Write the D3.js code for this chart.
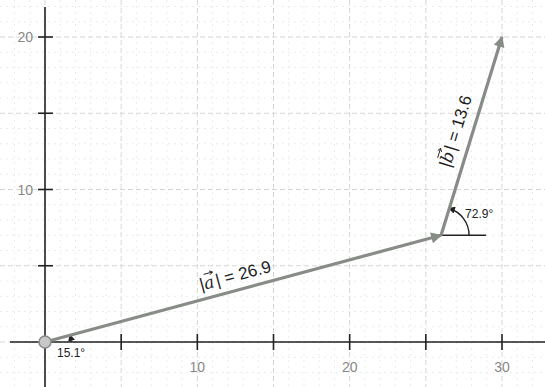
<!DOCTYPE html>
<html>
<head>
<meta charset="utf-8">
<script src="https://cdn.jsdelivr.net/npm/d3@7"></script>
<style>
  body { margin: 0; background: #fff; }
  svg { display: block; }
</style>
</head>
<body>
<svg width="545" height="387"></svg>
<script>
// vectors: tail -> head, in graph units
const vecNames = ["a", "b"];
const vecStart = [[0, 0], [26, 7]];
const vecEnd = [[26, 7], [30, 20]];
const vecMagLabels = ["26.9", "13.6"];
const angleLabels = ["15.1°", "72.9°"];
const xTicks = [5, 10, 15, 20, 25, 30];
const xTickLabels = [10, 20, 30];
const yTicks = [5, 10, 15, 20];
const yTickLabels = [10, 20];

const svg = d3.select("svg");
const W = 545, H = 387;
const x = d3.scaleLinear().domain([0, 30]).range([45, 502]);
const y = d3.scaleLinear().domain([0, 20]).range([342, 37]);
const arrowCol = "#878c87";
const font = "Liberation Sans, Arial, sans-serif";

const defs = svg.append("defs");
defs.append("marker").attr("id", "head")
    .attr("viewBox", "0 0 10 10").attr("refX", 9).attr("refY", 5)
    .attr("markerUnits", "userSpaceOnUse")
    .attr("markerWidth", 15).attr("markerHeight", 11).attr("orient", "auto")
  .append("path").attr("d", "M0,0 L10,5 L0,10 Z").attr("fill", arrowCol);
defs.append("marker").attr("id", "small")
    .attr("viewBox", "0 0 10 10").attr("refX", 8).attr("refY", 5)
    .attr("markerUnits", "userSpaceOnUse")
    .attr("markerWidth", 8).attr("markerHeight", 7).attr("orient", "auto")
  .append("path").attr("d", "M0,0 L10,5 L0,10 Z").attr("fill", "#222");

// grid
const xMin = Math.ceil(x.invert(0)), xMax = Math.floor(x.invert(W));
const yMin = Math.ceil(y.invert(H)), yMax = Math.floor(y.invert(0));
const grid = svg.append("g");
grid.selectAll(".gx").data(d3.range(xMin, xMax + 1)).enter().append("line")
    .attr("x1", d => x(d)).attr("x2", d => x(d)).attr("y1", 0).attr("y2", H)
    .attr("stroke", d => d % 5 === 0 ? "#d6d6d6" : "#ececec")
    .attr("stroke-dasharray", d => d % 5 === 0 ? "5,3" : "2,4");
grid.selectAll(".gy").data(d3.range(yMin, yMax + 1)).enter().append("line")
    .attr("y1", d => y(d)).attr("y2", d => y(d)).attr("x1", 0).attr("x2", W)
    .attr("stroke", d => d % 5 === 0 ? "#d6d6d6" : "#ececec")
    .attr("stroke-dasharray", d => d % 5 === 0 ? "5,3" : "2,4");

// axes
svg.append("line").attr("x1", 10).attr("x2", W).attr("y1", y(0)).attr("y2", y(0))
    .attr("stroke", "#222").attr("stroke-width", 1.6);
svg.append("line").attr("x1", x(0)).attr("x2", x(0)).attr("y1", 7).attr("y2", H)
    .attr("stroke", "#222").attr("stroke-width", 1.6);
svg.selectAll(".tx").data(xTicks).enter().append("line")
    .attr("x1", d => x(d)).attr("x2", d => x(d))
    .attr("y1", y(0) - 8).attr("y2", y(0) + 8)
    .attr("stroke", "#222").attr("stroke-width", 1.6);
svg.selectAll(".ty").data(yTicks).enter().append("line")
    .attr("y1", d => y(d)).attr("y2", d => y(d))
    .attr("x1", x(0) - 7).attr("x2", x(0) + 8)
    .attr("stroke", "#222").attr("stroke-width", 1.6);
svg.selectAll(".lx").data(xTickLabels).enter().append("text")
    .attr("x", d => x(d)).attr("y", y(0) + 30)
    .attr("text-anchor", "middle").attr("font-family", font)
    .attr("font-size", 14).attr("fill", "#888").text(d => d);
svg.selectAll(".ly").data(yTickLabels).enter().append("text")
    .attr("x", x(0) - 12).attr("y", d => y(d) + 5)
    .attr("text-anchor", "end").attr("font-family", font)
    .attr("font-size", 14).attr("fill", "#888").text(d => d);

// angle markers
vecNames.forEach((n, i) => {
  const cx = x(vecStart[i][0]), cy = y(vecStart[i][1]);
  const px = x(vecEnd[i][0]) - cx, py = cy - y(vecEnd[i][1]);
  const ang = Math.atan2(py, px);
  const r = i === 0 ? 26 : 28;
  if (i === 1) {
    svg.append("line").attr("x1", cx).attr("x2", cx + 45).attr("y1", cy).attr("y2", cy)
        .attr("stroke", "#222").attr("stroke-width", 1.5);
  }
  const ex = cx + r * Math.cos(ang), ey = cy - r * Math.sin(ang);
  svg.append("path")
      .attr("d", `M${cx + r},${cy} A${r},${r} 0 0 0 ${ex},${ey}`)
      .attr("fill", "none").attr("stroke", "#222").attr("stroke-width", 1.4)
      .attr("marker-end", "url(#small)");
  svg.append("text")
      .attr("x", i === 0 ? cx + 12 : cx + 24)
      .attr("y", i === 0 ? cy + 15 : cy - 17)
      .attr("font-family", font)
      .attr("font-size", 12).attr("fill", "#222").text(angleLabels[i]);
});

// vectors
svg.selectAll(".vec").data(vecNames).enter().append("line")
    .attr("x1", (d, i) => x(vecStart[i][0])).attr("y1", (d, i) => y(vecStart[i][1]))
    .attr("x2", (d, i) => x(vecEnd[i][0])).attr("y2", (d, i) => y(vecEnd[i][1]))
    .attr("stroke", arrowCol).attr("stroke-width", 3.2)
    .attr("marker-end", "url(#head)");

// origin point
svg.append("circle").attr("cx", x(0)).attr("cy", y(0)).attr("r", 6)
    .attr("fill", "#c8c8c8").attr("stroke", "#8a8a8a").attr("stroke-width", 1.5);

// magnitude labels  |v⃗| = m
const labelPos = [[0.49, 15], [0.5, 17]];
vecNames.forEach((n, i) => {
  const x0 = x(vecStart[i][0]), y0 = y(vecStart[i][1]);
  const x1 = x(vecEnd[i][0]), y1 = y(vecEnd[i][1]);
  const dx = x1 - x0, dy = y1 - y0, len = Math.hypot(dx, dy);
  const t = labelPos[i][0], off = labelPos[i][1];
  const mx = x0 + dx * t + dy / len * off;
  const my = y0 + dy * t - dx / len * off;
  const deg = Math.atan2(dy, dx) * 180 / Math.PI;
  const g = svg.append("g").attr("transform", `translate(${mx},${my}) rotate(${deg})`);
  const parts = [
    { s: "|", f: font, it: false },
    { s: n, f: "DejaVu Serif, serif", it: true },
    { s: "| = " + vecMagLabels[i], f: font, it: false }
  ];
  const nodes = parts.map(p => g.append("text")
      .attr("y", 6).attr("font-family", p.f).attr("font-style", p.it ? "italic" : "normal")
      .attr("font-size", 17).attr("fill", "#222").text(p.s));
  const widths = nodes.map(t => t.node().getComputedTextLength());
  const total = d3.sum(widths) + 2;
  let cur = -total / 2;
  nodes.forEach((t, k) => {
    t.attr("x", cur);
    if (k === 1) {
      // small arrow over the letter
      const ax0 = cur + 2, ax1 = cur + widths[k] + 1, ay = -9;
      g.append("line").attr("x1", ax0).attr("x2", ax1).attr("y1", ay).attr("y2", ay)
          .attr("stroke", "#222").attr("stroke-width", 0.9);
      g.append("path").attr("d", `M${ax1 - 3},${ay - 2} L${ax1},${ay} L${ax1 - 3},${ay + 2}`)
          .attr("fill", "none").attr("stroke", "#222").attr("stroke-width", 0.9);
      cur += 1;
    }
    cur += widths[k] + (k === 1 ? 1 : 0);
  });
});
</script>
</body>
</html>
